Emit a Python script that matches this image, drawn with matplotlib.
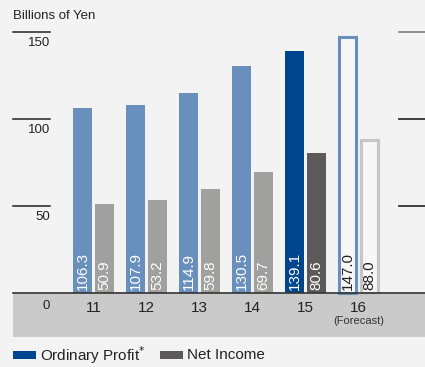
import matplotlib.pyplot as plt
from matplotlib.patches import Rectangle

plt.rcParams['font.family'] = ['Liberation Sans', 'DejaVu Sans']

years = ['11', '12', '13', '14', '15', '16']
ordinary_profit = [106.3, 107.9, 114.9, 130.5, 139.1, 147.0]
net_income = [50.9, 53.2, 59.8, 69.7, 80.6, 88.0]
y_ticks = [50, 100, 150]

bg = '#f2f3f2'
band = '#c9cac9'
blue_light = '#6990bd'
blue_dark = '#00468e'
gray_light = '#a0a09f'
gray_dark = '#5b5959'

fig = plt.figure(figsize=(4.25, 3.67), dpi=100, facecolor=bg)
ax = fig.add_axes([0, 0, 1, 1])
ax.set_facecolor(bg)
# 1 unit = 53 px in x, 1.74 px per value in y
ax.set_xlim(-93.5 / 53, (425 - 93.5) / 53)
ax.set_ylim(-(367 - 293) / 1.74, 293 / 1.74)
ax.axis('off')

w = 19 / 53
off = 11 / 53
n = len(years)
for i in range(n):
    op, ni = ordinary_profit[i], net_income[i]
    if i < n - 2:
        ax.bar(i - off, op, w, color=blue_light, zorder=2)
        ax.bar(i + off, ni, w, color=gray_light, zorder=2)
        tc = 'white'
    elif i == n - 2:
        ax.bar(i - off, op, w, color=blue_dark, zorder=2)
        ax.bar(i + off, ni, w, color=gray_dark, zorder=2)
        tc = 'white'
    else:
        ax.bar(i - off, op, w * 0.9, facecolor='#f6f7f6', edgecolor=blue_light, linewidth=2.2, zorder=2)
        ax.bar(i + off, ni, w * 0.9, facecolor='#f6f7f6', edgecolor='#c6c6c6', linewidth=2.2, zorder=2)
        tc = '#222222'
    ax.text(i - off, 1.5, f'{op:.1f}', rotation=90, ha='center', va='bottom',
            color=tc, fontsize=11, zorder=3)
    ax.text(i + off, 1.5, f'{ni:.1f}', rotation=90, ha='center', va='bottom',
            color=tc, fontsize=11, zorder=3)
    ax.text(i, -4.5, years[i], ha='center', va='top', fontsize=11, color='#222222', zorder=3)
ax.text(n - 1, -13.5, '(Forecast)', ha='center', va='top', fontsize=8, color='#333333', zorder=3)

# grey band under the baseline
x0 = (13 - 93.5) / 53
x1 = (425 - 93.5) / 53
ax.add_patch(Rectangle((x0, -44 / 1.74), x1 - x0, 44 / 1.74, facecolor=band, edgecolor='none', zorder=1))
ax.plot([x0, x1], [0, 0], color='#333333', linewidth=1.2, zorder=4)
ax.text((50 - 93.5) / 53, -4, '0', ha='right', va='top', fontsize=9.5, color='#222222')

# short tick lines at both sides
lx1 = (50 - 93.5) / 53
rx0 = (399 - 93.5) / 53
for v in y_ticks:
    ax.plot([x0, lx1], [v, v], color='#222222', linewidth=1.1)
    ax.plot([rx0, x1], [v, v], color='#333333' if v < 150 else '#888888', linewidth=1.3)
    ax.text(lx1, v - 3, str(v), ha='right', va='top', fontsize=9.5, color='#222222')
ax.text(x0, 156, 'Billions of Yen', ha='left', va='bottom', fontsize=9.5, color='#222222')

# legend
ly = -(355 - 293) / 1.74
ax.add_patch(Rectangle(((13 - 93.5) / 53, ly - 2.3), 23 / 53, 4.6, facecolor=blue_dark, edgecolor='none'))
ax.text((40 - 93.5) / 53, ly, 'Ordinary Profit$^{*}$', ha='left', va='center', fontsize=11, color='#222222')
ax.add_patch(Rectangle(((160 - 93.5) / 53, ly - 2.3), 23 / 53, 4.6, facecolor=gray_dark, edgecolor='none'))
ax.text((187 - 93.5) / 53, ly, 'Net Income', ha='left', va='center', fontsize=11, color='#222222')

fig.savefig('out.png', dpi=100, facecolor=bg)
